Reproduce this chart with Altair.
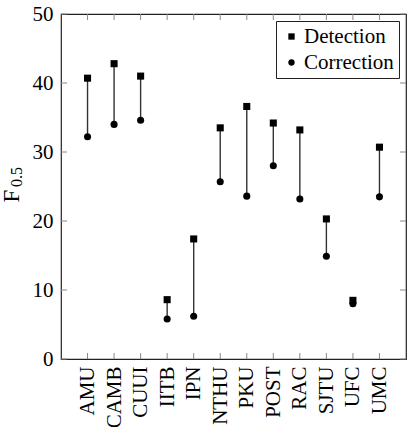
import altair as alt
import pandas as pd

teams = ["AMU", "CAMB", "CUUI", "IITB", "IPN", "NTHU", "PKU", "POST", "RAC", "SJTU", "UFC", "UMC"]
detection = [40.7, 42.8, 41.0, 8.6, 17.4, 33.5, 36.6, 34.2, 33.2, 20.3, 8.5, 30.7]
correction = [32.2, 34.0, 34.6, 5.8, 6.2, 25.7, 23.6, 28.0, 23.2, 14.9, 8.0, 23.5]
y_ticks = [0, 10, 20, 30, 40, 50]

FONT = "Liberation Serif"
W, H = 345, 345

wide = pd.DataFrame({"team": teams, "Detection": detection, "Correction": correction})
long = wide.melt(id_vars="team", value_vars=["Detection", "Correction"], var_name="Type", value_name="F")
ticks_df = pd.DataFrame({"v": y_ticks})
xt_df = pd.DataFrame({"team": teams})

xscale = alt.Scale(type="point", domain=teams, padding=1.11)
yscale = alt.Scale(domain=[0, 50], nice=False, zero=True)

xenc = alt.X("team:N", scale=xscale, sort=teams,
             axis=alt.Axis(title=None, labelAngle=270, labelFont=FONT, labelFontSize=21,
                           labelColor="black", labelPadding=7, ticks=False, domain=False, grid=False))
yenc = alt.Y("F:Q", scale=yscale,
             axis=alt.Axis(title=None, values=y_ticks, labelFont=FONT, labelFontSize=21,
                           labelColor="black", labelPadding=8, ticks=False, domain=False, grid=False))

rules = alt.Chart(wide).mark_rule(color="#333333", strokeWidth=1.4).encode(
    x=xenc,
    y=alt.Y("Detection:Q", scale=yscale),
    y2="Correction:Q",
)

points = alt.Chart(long).mark_point(filled=True, opacity=1, color="black", size=50).encode(
    x=alt.X("team:N", scale=xscale, sort=teams),
    y=yenc,
    shape=alt.Shape("Type:N",
                    scale=alt.Scale(domain=["Detection", "Correction"], range=["square", "circle"]),
                    legend=alt.Legend(title=None, orient="top-right", offset=7, padding=5,
                                      strokeColor="#222222", fillColor="white",
                                      labelFont=FONT, labelFontSize=21, labelColor="black",
                                      labelOffset=2, rowPadding=4, symbolSize=40,
                                      symbolFillColor="black", symbolStrokeColor="black")),
)

tick_color = "#888888"
ytick_l = alt.Chart(ticks_df).mark_rule(color=tick_color, strokeWidth=1).encode(
    y=alt.Y("v:Q", scale=yscale), x=alt.value(0), x2=alt.value(6))
ytick_r = alt.Chart(ticks_df).mark_rule(color=tick_color, strokeWidth=1).encode(
    y=alt.Y("v:Q", scale=yscale), x=alt.value(W - 6), x2=alt.value(W))
xtick_b = alt.Chart(xt_df).mark_rule(color=tick_color, strokeWidth=1).encode(
    x=alt.X("team:N", scale=xscale, sort=teams), y=alt.value(H - 6), y2=alt.value(H))
xtick_t = alt.Chart(xt_df).mark_rule(color=tick_color, strokeWidth=1).encode(
    x=alt.X("team:N", scale=xscale, sort=teams), y=alt.value(0), y2=alt.value(6))

title_F = alt.Chart(pd.DataFrame({"t": ["F"]})).mark_text(
    font=FONT, fontSize=23, angle=270, align="center", baseline="middle", color="black"
).encode(x=alt.value(-49), y=alt.value(182), text="t:N")
title_sub = alt.Chart(pd.DataFrame({"t": ["0.5"]})).mark_text(
    font=FONT, fontSize=16, angle=270, align="center", baseline="middle", color="black"
).encode(x=alt.value(-44), y=alt.value(163), text="t:N")

chart = alt.layer(
    ytick_l, ytick_r, xtick_b, xtick_t, rules, points, title_F, title_sub
).properties(
    width=W, height=H,
    autosize=alt.AutoSizeParams(type="none"),
    padding={"left": 61, "top": 14, "right": 5, "bottom": 68},
).configure(
    background="white", font=FONT
).configure_axis(
    labelFont=FONT
).configure_legend(
    labelFont=FONT
).configure_view(
    stroke="#222222", strokeWidth=1.2
)

chart.save("out.html", embed_options={"renderer": "svg", "actions": False})
